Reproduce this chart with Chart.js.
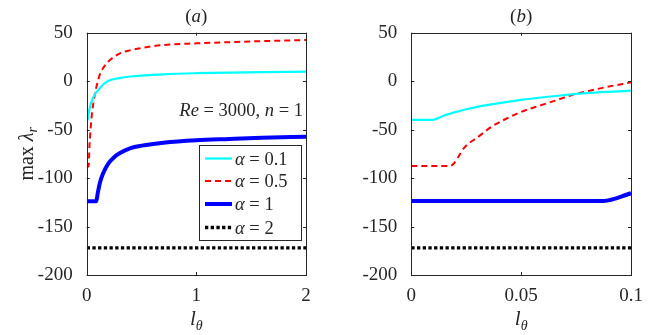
<!DOCTYPE html>
<html>
<head>
<meta charset="utf-8">
<script src="https://cdn.jsdelivr.net/npm/chart.js@4.4.1/dist/chart.umd.min.js"></script>
<style>
	html, body { margin: 0; padding: 0; background: #fff; }
	#wrap { position: relative; width: 664px; height: 335px; }
	canvas { position: absolute; top: 0; }
</style>
</head>
<body>
<div id="wrap">
	<canvas id="chartA" width="332" height="335" style="left:0"></canvas>
	<canvas id="chartB" width="332" height="335" style="left:332px"></canvas>
</div>
<script>
// panel (a): l_theta from 0 to 2
const aCyanX = [0, 0.009, 0.02, 0.03, 0.05, 0.075, 0.1, 0.15, 0.2, 0.3, 0.4, 0.5, 0.7, 1.0, 1.3, 1.6, 2.0];
const aCyanY = [-40, -40, -32, -26.5, -19.3, -13.5, -9.8, -3.5, 0.5, 3.2, 4.8, 5.8, 7.1, 8.2, 8.9, 9.4, 9.8];
const aRedX = [0, 0.018, 0.025, 0.031, 0.037, 0.043, 0.05, 0.065, 0.08, 0.1, 0.12, 0.15, 0.2, 0.3, 0.4, 0.5, 0.7, 1.0, 1.3, 1.6, 2.0];
const aRedY = [-88, -88, -67, -57, -47, -39, -31, -20, -10, -1, 7, 13.5, 20.5, 28.5, 32, 34.2, 37.3, 39, 40.2, 41.3, 42.4];
const aBlueX = [0, 0.087, 0.1, 0.12, 0.15, 0.2, 0.25, 0.3, 0.4, 0.5, 0.7, 1.0, 1.3, 1.6, 2.0];
const aBlueY = [-124, -124, -116, -105, -95, -84.5, -78.5, -74.4, -69, -66.5, -63.5, -61, -59.7, -58.5, -57.3];
const aBlackX = [0, 2];
const aBlackY = [-172, -172];

// panel (b): zoom on l_theta from 0 to 0.1
const bCyanX = [0, 0.009, 0.015, 0.02, 0.025, 0.03, 0.035, 0.04, 0.05, 0.06, 0.07, 0.08, 0.09, 0.1];
const bCyanY = [-40, -40, -35.5, -32, -29, -26.5, -24.5, -22.6, -19.3, -16.6, -14.3, -12.4, -11, -9.8];
const bRedX = [0, 0.0176, 0.0245, 0.0306, 0.0366, 0.0427, 0.0503, 0.0579, 0.0655, 0.0731, 0.0807, 0.0883, 0.1];
const bRedY = [-87.5, -87.5, -67.6, -57.2, -46.9, -39.3, -31.4, -25.6, -20.1, -14.2, -10.1, -6.3, -1.2];
const bBlueX = [0, 0.0875, 0.1];
const bBlueY = [-123.6, -123.6, -115.7];
const bBlackX = [0, 0.1];
const bBlackY = [-172, -172];

const alphaValues = ["0.1", "0.5", "1", "2"];
const yTicks = [50, 0, -50, -100, -150, -200];

const SERIF = "'Liberation Serif', 'DejaVu Serif', serif";
const AXIS = "#262626";

function font(size, italic) {
	return (italic ? "italic " : "") + size + "px " + SERIF;
}

function pts(xs, ys) {
	return xs.map((x, i) => ({ x, y: ys[i] }));
}

// draw a run of text pieces (upright/italic/subscript) on one baseline
function drawRich(ctx, segs, x, y, align) {
	let w = 0;
	segs.forEach((s) => {
		ctx.font = font(s.size || 19, s.italic);
		s.w = ctx.measureText(s.t).width;
		w += s.w;
	});
	let cx = align === "center" ? x - w / 2 : align === "right" ? x - w : x;
	segs.forEach((s) => {
		ctx.font = font(s.size || 19, s.italic);
		ctx.fillText(s.t, cx, y + (s.dy || 0));
		cx += s.w;
	});
}

function makeSets(cx, cy, rx, ry, bx, by, kx, ky) {
	const base = { pointRadius: 0, fill: false, cubicInterpolationMode: "monotone", borderCapStyle: "butt" };
	return [
		{ ...base, data: pts(cx, cy), borderColor: "#00ffff", borderWidth: 2.2 },
		{ ...base, data: pts(rx, ry), borderColor: "#ff0000", borderWidth: 2, borderDash: [6, 4] },
		{ ...base, data: pts(bx, by), borderColor: "#0000ff", borderWidth: 4 },
		{ ...base, data: pts(kx, ky), borderColor: "#000000", borderWidth: 3.3, borderDash: [3.3, 2.4] }
	];
}

const decor = {
	id: "decor",
	afterDraw(chart, args, opts) {
		const { ctx, chartArea: a, scales } = chart;
		const x = scales.x, y = scales.y;
		ctx.save();
		ctx.fillStyle = AXIS;
		ctx.strokeStyle = AXIS;
		ctx.lineWidth = 1;
		ctx.setLineDash([]);

		// box + inward ticks
		ctx.strokeRect(Math.round(a.left) + 0.5, Math.round(a.top) + 0.5, Math.round(a.right - a.left), Math.round(a.bottom - a.top));
		ctx.beginPath();
		y.ticks.forEach((t) => {
			const py = Math.round(y.getPixelForValue(t.value)) + 0.5;
			ctx.moveTo(a.left, py); ctx.lineTo(a.left + 3, py);
			ctx.moveTo(a.right, py); ctx.lineTo(a.right - 3, py);
		});
		x.ticks.forEach((t) => {
			const px = Math.round(x.getPixelForValue(t.value)) + 0.5;
			ctx.moveTo(px, a.bottom); ctx.lineTo(px, a.bottom - 3);
			ctx.moveTo(px, a.top); ctx.lineTo(px, a.top + 3);
		});
		ctx.stroke();

		const mid = (a.left + a.right) / 2;
		ctx.textBaseline = "alphabetic";
		drawRich(ctx, [{ t: "(" }, { t: opts.letter, italic: true }, { t: ")" }], mid, 22, "center");
		drawRich(ctx, [{ t: "l", italic: true, size: 21 }, { t: "θ", italic: true, size: 14, dy: 5 }], mid, 325, "center");

		if (opts.yTitle) {
			ctx.save();
			ctx.translate(33, (a.top + a.bottom) / 2);
			ctx.rotate(-Math.PI / 2);
			drawRich(ctx, [{ t: "max ", size: 20 }, { t: "λ", italic: true, size: 20 }, { t: "r", italic: true, size: 14, dy: 4 }], 0, 0, "center");
			ctx.restore();
		}

		if (opts.legend) {
			ctx.fillStyle = AXIS;
			drawRich(ctx, [
				{ t: "Re", italic: true, size: 18.5 }, { t: " = 3000, ", size: 18.5 },
				{ t: "n", italic: true, size: 18.5 }, { t: " = 1", size: 18.5 }
			], 303, 116, "right");

			const bx = 199.5, by = 145.5, bw = 102, bh = 95;
			ctx.fillStyle = "#fff";
			ctx.fillRect(bx, by, bw, bh);
			ctx.strokeStyle = AXIS;
			ctx.lineWidth = 1;
			ctx.strokeRect(bx, by, bw, bh);
			const rows = [158.5, 181, 204, 227.5];
			chart.data.datasets.forEach((ds, i) => {
				ctx.save();
				ctx.strokeStyle = ds.borderColor;
				ctx.lineWidth = ds.borderWidth;
				ctx.setLineDash(ds.borderDash || []);
				ctx.beginPath();
				ctx.moveTo(205, rows[i]);
				ctx.lineTo(232, rows[i]);
				ctx.stroke();
				ctx.restore();
				ctx.fillStyle = AXIS;
				drawRich(ctx, [{ t: "α", italic: true, size: 18.5 }, { t: " = " + alphaValues[i], size: 18.5 }], 235, rows[i] + 6, "left");
			});
		}
		ctx.restore();
	}
};

function makeChart(id, sets, xMax, xStep, yWidth, padRight, opts) {
	return new Chart(document.getElementById(id), {
		type: "line",
		data: { datasets: sets },
		options: {
			responsive: false,
			animation: false,
			layout: { padding: { left: 0, right: padRight, top: 32.7, bottom: 0 } },
			plugins: { legend: { display: false }, tooltip: { enabled: false }, decor: opts },
			scales: {
				x: {
					type: "linear", min: 0, max: xMax,
					ticks: {
						stepSize: xStep, color: AXIS, font: { family: SERIF, size: 19 }, padding: 2, maxRotation: 0,
						callback: (v) => String(+v.toFixed(4))
					},
					grid: { display: false }, border: { display: false },
					afterFit: (s) => { s.height = 60; }
				},
				y: {
					min: -200, max: 50,
					afterBuildTicks: (s) => { s.ticks = yTicks.map((v) => ({ value: v })); },
					ticks: { color: AXIS, font: { family: SERIF, size: 19 }, padding: 6, callback: (v) => String(v) },
					grid: { display: false }, border: { display: false },
					afterFit: (s) => { s.width = yWidth; }
				}
			}
		},
		plugins: [decor]
	});
}

makeChart("chartA", makeSets(aCyanX, aCyanY, aRedX, aRedY, aBlueX, aBlueY, aBlackX, aBlackY), 2, 1, 86.7, 26,
	{ letter: "a", yTitle: true, legend: true });
makeChart("chartB", makeSets(bCyanX, bCyanY, bRedX, bRedY, bBlueX, bBlueY, bBlackX, bBlackY), 0.1, 0.05, 79.3, 33,
	{ letter: "b", yTitle: false, legend: false });
</script>
</body>
</html>
